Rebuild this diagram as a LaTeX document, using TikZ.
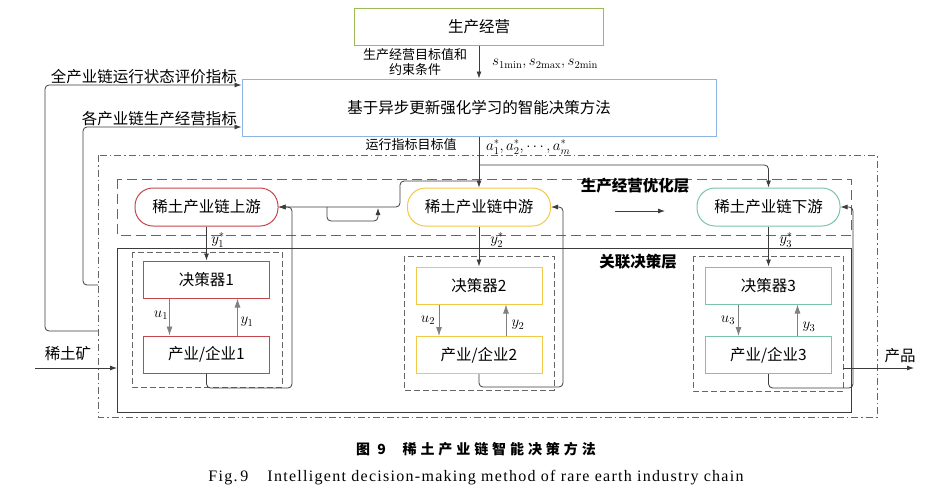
\RequirePackage{fix-cm}
\documentclass[tikz,border=0pt]{standalone}
\usepackage[no-math]{fontspec}
\setmainfont{Noto Sans CJK SC}
\newfontfamily\capfont[LetterSpace=8]{Liberation Serif}
\newfontfamily\capcjk[LetterSpace=28]{Noto Sans CJK SC}
\usetikzlibrary{arrows.meta}
\definecolor{prodgreen}{RGB}{155,187,89}
\definecolor{methodblue}{RGB}{141,180,226}
\definecolor{upred}{RGB}{196,70,74}
\definecolor{midyellow}{RGB}{242,200,70}
\definecolor{downteal}{RGB}{122,196,170}
\definecolor{linegray}{RGB}{60,60,60}

\begin{document}
\begin{tikzpicture}[x=1pt,y=-1pt]
    \tikzstyle{box}=[rectangle, draw, line width=1pt, font=\fontsize{15.5}{18}\selectfont, inner sep=0pt]
    \tikzstyle{stream}=[box, rounded corners=18pt, minimum width=143pt, minimum height=38pt]
    \tikzstyle{unit}=[box, minimum width=126pt, minimum height=37pt]
    \tikzstyle{arr}=[draw=linegray, line width=0.8pt, -{Latex[length=7pt,width=5pt]}, rounded corners=4pt]
    \tikzstyle{uarr}=[draw=gray, line width=0.8pt, -{Latex[length=9pt,width=6pt]}]
    \tikzstyle{lbl}=[font=\fontsize{15.5}{18}\selectfont, inner sep=0pt]
    \tikzstyle{small}=[font=\fontsize{13}{15}\selectfont, inner sep=0pt]
    \tikzstyle{sym}=[font=\fontsize{15}{17}\selectfont, inner sep=0pt]
    \tikzstyle{layer}=[font=\fontsize{15.5}{18}\selectfont\bfseries, inner sep=0pt]
    \useasboundingbox (0,0) rectangle (935,491);

    % frames
    \draw[gray!80!black, line width=0.8pt, dash pattern=on 7pt off 3pt on 1.5pt off 3pt] (98,155) rectangle (877,417);
    \draw[gray!80!black, line width=1pt, dash pattern=on 10pt off 5pt] (117,179) rectangle (851,235);
    \draw[linegray, line width=1pt] (117,248) rectangle (851,412);
    \draw[gray!80!black, line width=1pt, dash pattern=on 6pt off 3pt] (132,252) rectangle (282,387);
    \draw[gray!80!black, line width=1pt, dash pattern=on 6pt off 3pt] (404,256) rectangle (554,390);
    \draw[gray!80!black, line width=1pt, dash pattern=on 6pt off 3pt] (693,256) rectangle (843,391);

    \node[layer] (optlayer) at (635,186) {生产经营优化层};
    \node[layer] (declayer) at (638,262) {关联决策层};

    % nodes
    \node[box, draw=prodgreen, minimum width=249pt, minimum height=37pt] (prod) at (479,26.5) {生产经营};
    \node[box, draw=methodblue, minimum width=474pt, minimum height=57pt] (method) at (479,107.5) {基于异步更新强化学习的智能决策方法};

    \node[stream, draw=upred] (up) at (206.5,207) {稀土产业链上游};
    \node[stream, draw=midyellow] (mid) at (479,207) {稀土产业链中游};
    \node[stream, draw=downteal] (down) at (768.5,207) {稀土产业链下游};

    \node[unit, draw=upred] (dec1) at (206.5,279.5) {决策器1};
    \node[unit, draw=upred] (ent1) at (206.5,354.5) {产业/企业1};
    \node[unit, draw=midyellow] (dec2) at (479,285.5) {决策器2};
    \node[unit, draw=midyellow] (ent2) at (479,355) {产业/企业2};
    \node[unit, draw=downteal] (dec3) at (768.5,285.5) {决策器3};
    \node[unit, draw=downteal] (ent3) at (768.5,355) {产业/企业3};

    % top connectors
    \draw[arr] (prod.south) -- (method.north);
    \node[small, align=center] (goal) at (415,62) {生产经营目标值和\\约束条件};
    \node[sym, anchor=west] (slim) at (492,64) {$s_{1\mathrm{min}},s_{2\mathrm{max}},s_{2\mathrm{min}}$};

    \draw[arr] (method.south) -- (mid.north);
    \node[small] (target) at (411,145) {运行指标目标值};
    \node[sym, anchor=west] (astar) at (486,147) {$a_1^*,a_2^*,\cdots,a_m^*$};

    \coordinate (brdown) at (479,165);
    \coordinate (brup) at (479,181);
    \draw[arr] (brdown) -| (down.north);
    \draw[arr] (brup) -- (400,181) |- (up.east);
    \coordinate (bumpA) at (327,207);
    \coordinate (bumpB) at (378,208);
    \draw[arr] (bumpA) |- (378,221) -- (bumpB);

    \coordinate (flowA) at (615,211);
    \coordinate (flowB) at (665,211);
    \draw[arr] (flowA) -- (flowB);

    % down to decision makers
    \draw[arr] (up.south) -- (dec1.north);
    \draw[arr] (mid.south) -- (dec2.north);
    \draw[arr] (down.south) -- (dec3.north);
    \node[sym] (ys1) at (218,240) {$y_1^*$};
    \node[sym] (ys2) at (497,240) {$y_2^*$};
    \node[sym] (ys3) at (786,240) {$y_3^*$};

    % inner loops
    \draw[uarr] ([xshift=-37pt]dec1.south) -- ([xshift=-37pt]ent1.north);
    \draw[uarr] ([xshift=31pt]ent1.north) -- ([xshift=31pt]dec1.south);
    \draw[uarr] ([xshift=-40pt]dec2.south) -- ([xshift=-40pt]ent2.north);
    \draw[uarr] ([xshift=27pt]ent2.north) -- ([xshift=27pt]dec2.south);
    \draw[uarr] ([xshift=-30pt]dec3.south) -- ([xshift=-30pt]ent3.north);
    \draw[uarr] ([xshift=29pt]ent3.north) -- ([xshift=29pt]dec3.south);
    \node[sym] (u1) at (161,315) {$u_1$};
    \node[sym] (y1) at (247,322) {$y_1$};
    \node[sym] (u2) at (428,320) {$u_2$};
    \node[sym] (y2) at (518,325) {$y_2$};
    \node[sym] (u3) at (728,320) {$u_3$};
    \node[sym] (y3) at (809,327) {$y_3$};

    % feedback to streams
    \draw[arr] (ent1.south) |- (292,388) |- (up.east);
    \draw[arr] (ent2.south) |- (563,387) |- (mid.east);
    \draw[arr] (ent3.south) |- (853,388) |- (down.east);

    % feedback to method
    \coordinate (fbA) at (98,331);
    \coordinate (fbB) at (98,285);
    \draw[arr] (fbA) -- (45,331) -- (45,85) -- (method.west |- 45,85);
    \draw[arr] (fbB) -- (83,285) -- (83,127) -- (method.west |- 83,127);
    \node[lbl, anchor=south east] (allidx) at (237,84) {全产业链运行状态评价指标};
    \node[lbl, anchor=south east] (eachidx) at (237,126) {各产业链生产经营指标};

    % in and out
    \coordinate (oreA) at (35,368);
    \coordinate (oreB) at (117,368);
    \draw[arr] (oreA) -- (oreB);
    \node[lbl] (ore) at (68,354) {稀土矿};
    \coordinate (outA) at (843,368);
    \coordinate (outB) at (914,368);
    \draw[arr] (outA) -- (outB);
    \node[lbl] (goods) at (900,356) {产品};

    % caption
    \node[inner sep=0pt, font=\fontsize{14}{16}\selectfont\capcjk\bfseries] (capcn) at (476,449) {图 9\hspace{1.2em}稀土产业链智能决策方法};
    \node[inner sep=0pt, font=\fontsize{16}{18}\selectfont\capfont] (capen) at (476,478) {Fig.\,9\hspace{1.2em}Intelligent decision-making method of rare earth industry chain};
\end{tikzpicture}
\end{document}
